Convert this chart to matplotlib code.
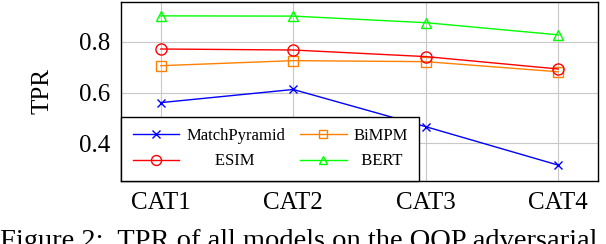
import matplotlib.pyplot as plt

categories = ["CAT1", "CAT2", "CAT3", "CAT4"]
match_pyramid = [0.560, 0.612, 0.465, 0.313]
bimpm = [0.706, 0.726, 0.722, 0.682]
esim = [0.772, 0.768, 0.742, 0.693]
bert = [0.903, 0.902, 0.876, 0.828]

plt.rcParams["font.family"] = ["Liberation Serif", "DejaVu Serif"]

fig = plt.figure(figsize=(6.06, 2.44), dpi=100)
ax = fig.add_axes([0.1997, 0.258, 0.787, 0.734])

x = list(range(1, len(categories) + 1))
l_mp, = ax.plot(x, match_pyramid, color="#0000ff", marker="x", ms=6, mew=1.0, lw=1.0,
                label="MatchPyramid")
l_bi, = ax.plot(x, bimpm, color="#ff8000", marker="s", ms=7, mfc="none", mew=1.0, lw=1.0,
                label="BiMPM")
l_es, = ax.plot(x, esim, color="#ff0000", marker="o", ms=8, mfc="none", mew=1.0, lw=1.0,
                label="ESIM")
l_be, = ax.plot(x, bert, color="#00ff00", marker="^", ms=7, mfc="none", mew=1.0, lw=1.0,
                label="BERT")

ax.set_xlim(0.7, 4.3)
ax.set_ylim(0.25, 0.958)
ax.set_xticks(x)
ax.set_xticklabels(categories)
ax.set_yticks([0.4, 0.6, 0.8])
ax.set_yticklabels(["0.4", "0.6", "0.8"])
ax.tick_params(labelsize=18, length=0, pad=8)
ax.grid(True, color="#c8c8c8", lw=0.8)
ax.set_axisbelow(True)
for s in ax.spines.values():
    s.set_linewidth(1.0)
ax.set_ylabel("TPR", fontsize=18, labelpad=18)

# column-wise fill: col 1 = MatchPyramid/ESIM, col 2 = BiMPM/BERT
leg = ax.legend([l_mp, l_es, l_bi, l_be],
                ["MatchPyramid", "       ESIM", "BiMPM", "  BERT"],
                loc="lower left", ncol=2, fontsize=12, frameon=True, fancybox=False,
                edgecolor="black", borderaxespad=0, handlelength=2.8, markerscale=0.9,
                columnspacing=0.9, handletextpad=0.4, borderpad=0.7, labelspacing=0.55)
leg.get_frame().set_linewidth(1.0)
leg.get_frame().set_alpha(1.0)

fig.text(0.0, 0.062, "Figure 2:  TPR of all models on the QQP adversarial",
         fontsize=20.5, ha="left", va="top")

fig.savefig("out.png", dpi=100)
